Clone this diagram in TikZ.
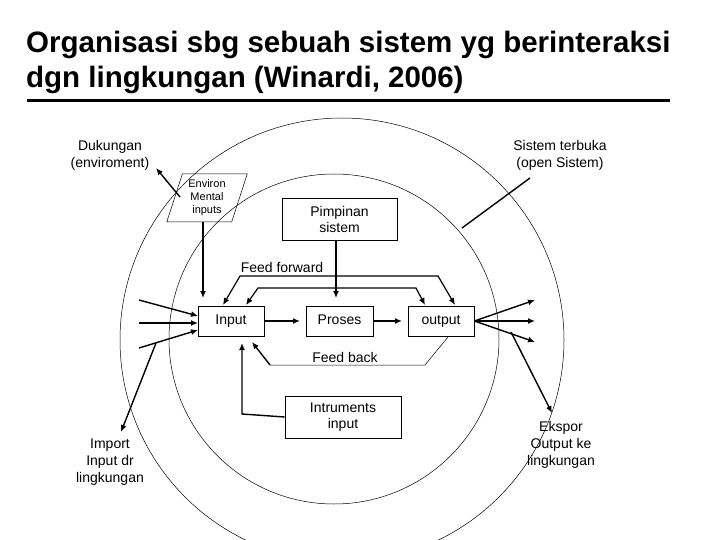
\documentclass[tikz,border=0pt]{standalone}
\usepackage{fontspec}
\setmainfont{Liberation Sans}
\usetikzlibrary{arrows.meta,shapes.geometric}
\begin{document}
\begin{tikzpicture}[x=1pt,y=-1pt,
  box/.style={draw,line width=0.8pt,inner sep=0pt,font=\fontsize{14}{16}\selectfont},
  lbl/.style={font=\fontsize{14}{17}\selectfont,align=center,inner sep=0pt},
  arr/.style={line width=1.4pt,-{Latex[length=7pt,width=6pt]}},
  ln/.style={line width=1.4pt},
  thin/.style={line width=0.5pt}]
\useasboundingbox (0,0) rectangle (720,540);
\node[anchor=west,font=\bfseries\fontsize{29.5}{34}\selectfont,inner sep=0pt] (t1) at (26,45) {Organisasi sbg sebuah sistem yg berinteraksi};
\node[anchor=west,font=\bfseries\fontsize{29.5}{34}\selectfont,inner sep=0pt] (t2) at (26,80) {dgn lingkungan (Winardi, 2006)};
\coordinate (u1) at (27,101); \coordinate (u2) at (670,101);
\draw[line width=3pt] (u1) -- (u2);
\begin{scope}
\clip (0,105) rectangle (720,540);
\draw[thin] (342,340) circle (222);
\end{scope}
\draw[thin] (334,339) circle (165);
\node[box,minimum width=66,minimum height=30,text height=10pt,text depth=3pt] (in) at (231,321) {Input};
\node[box,minimum width=67,minimum height=30,text height=10pt,text depth=3pt] (pr) at (339.5,321) {Proses};
\node[box,minimum width=66,minimum height=30,text height=10pt,text depth=3pt] (out) at (441,321) {output};
\node[box,minimum width=115,minimum height=42,align=center] (pim) at (339.5,219) {Pimpinan\\sistem};
\node[box,minimum width=116,minimum height=42,align=center] (ins) at (343,417) {Intruments\\input};
\node[draw,thin,trapezium,trapezium left angle=72,trapezium right angle=108,minimum width=62,minimum height=48,inner sep=0pt,align=center,font=\fontsize{11}{13}\selectfont] (env) at (207,198) {Environ\\Mental\\inputs};
\node[lbl] (duk) at (110,155) {Dukungan\\(enviroment)};
\node[lbl] (sis) at (560,155) {Sistem terbuka\\(open Sistem)};
\node[lbl] (ff) at (282,267) {Feed forward};
\node[lbl] (fb) at (345,357) {Feed back};
\node[lbl] (imp) at (110,462) {Import\\Input dr\\lingkungan};
\node[lbl] (eks) at (561,445) {Ekspor\\Output ke\\lingkungan};
% left inputs
\coordinate (l1) at (139,300); \coordinate (l2) at (139,323); \coordinate (l3) at (139,348);
\draw[arr] (l1) -- (198,316);
\draw[arr] (l2) -- (198,323);
\draw[arr] (l3) -- (198,330);
\coordinate (ib) at (156,343);
\draw[arr] (ib) -- (121,432);
% outputs
\coordinate (o1) at (535,300); \coordinate (o2) at (535,321); \coordinate (o3) at (535,342);
\draw[arr] (out.east) -- (o1);
\draw[arr] (out.east) -- (o2);
\draw[arr] (out.east) -- (o3);
\coordinate (eb) at (511,332);
\draw[arr] (eb) -- (552,413);
% environ
\coordinate (ea) at (180,197); \coordinate (eh) at (156,168);
\draw[arr] (ea) -- (eh);
\draw[arr] (203,222) -- (203,298);
\coordinate (sa) at (462,228); \coordinate (sb) at (530,178);
\draw[ln] (sa) -- (sb);
\draw[arr] (336,240) -- (336,298);
% feed forward
\draw[line width=1.2pt,{Latex[length=7pt,width=6pt]}-{Latex[length=7pt,width=6pt]}] (223,305) -- (240,276) -- (438,276) -- (455,305);
\draw[line width=1.2pt,{Latex[length=7pt,width=6pt]}-{Latex[length=7pt,width=6pt]}] (246,305) -- (258,288) -- (416,288) -- (425,305);
\draw[arr] (in.east) -- (300,321);
\draw[arr] (pr.east) -- (402,321);
% feed back
\draw[thin] (448,337) -- (425,365) -- (270,365);
\draw[arr] (270,365) -- (252,342);
\draw[arr] (ins.west) -- (242,414) -- (242,343);
\end{tikzpicture}
\end{document}
